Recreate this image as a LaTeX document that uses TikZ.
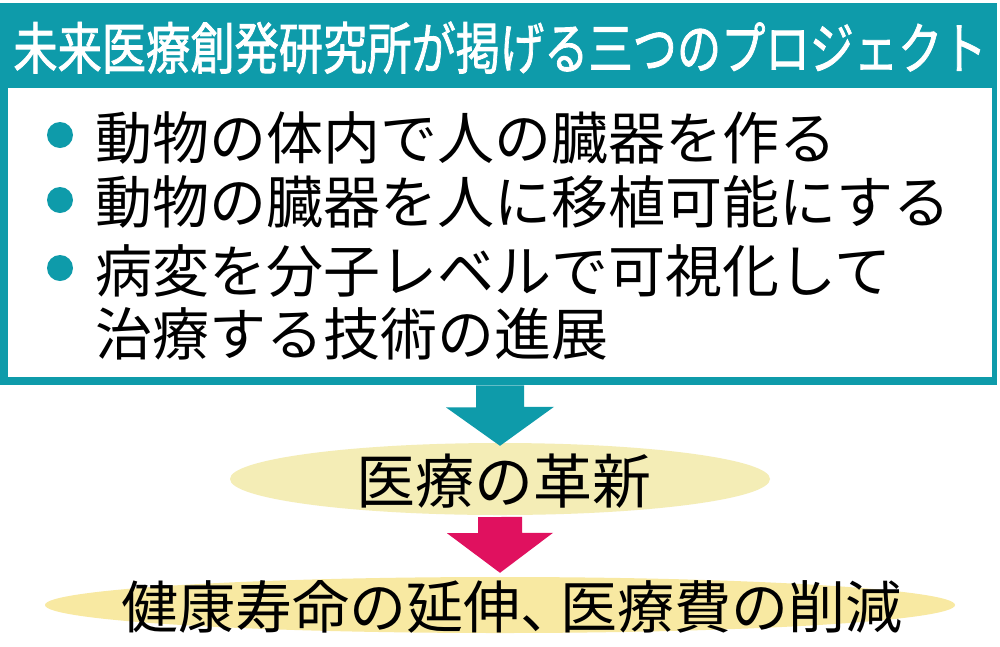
\documentclass[tikz,border=0pt]{standalone}
\usepackage{fontspec}
\usetikzlibrary{shapes.geometric}
\newfontfamily\cjk{Noto Sans CJK JP}
\newfontfamily\cjktitle[FakeBold=1.6]{Noto Sans CJK JP}
\definecolor{teal1}{HTML}{0E9BAA}
\definecolor{pale1}{HTML}{F4EDB6}
\definecolor{pale2}{HTML}{F8E9A2}
\definecolor{mag1}{HTML}{E0115F}
\tikzset{
  body/.style={anchor=base west, inner sep=0pt, font=\cjk\fontsize{57pt}{66pt}\selectfont, text=black},
  dot/.style={circle, fill=teal1, minimum size=26pt, inner sep=0pt},
  blob/.style={ellipse, inner sep=0pt},
}
\begin{document}
\begin{tikzpicture}[x=1pt,y=-1pt]
\useasboundingbox (0,0) rectangle (1000,646);
\fill[white] (0,0) rectangle (1000,646);
% frame
\node[fill=teal1, anchor=north west, minimum width=997pt, minimum height=382pt, inner sep=0pt] (frame) at (0,3) {};
\node[fill=white, anchor=north west, minimum width=984pt, minimum height=289pt, inner sep=0pt] (panel) at (8,88) {};
\node[anchor=base, inner sep=0pt, text=white, font=\cjktitle\fontsize{56pt}{64pt}\selectfont] (title) at (500,69) {\scalebox{0.79}[1]{未来医療創発研究所が掲げる三つのプロジェクト}};
% bullets
\node[dot] (d1) at (60,135) {};
\node[dot] (d2) at (60,200) {};
\node[dot] (d3) at (60,268) {};
\node[body] (l1) at (95,159) {動物の体内で人の臓器を作る};
\node[body] (l2) at (95,223) {動物の臓器を人に移植可能にする};
\node[body] (l3) at (95,292) {病変を分子レベルで可視化して};
\node[body] (l4) at (95,355) {治療する技術の進展};
% ellipses
\node[blob, fill=pale1, minimum width=540pt, minimum height=72pt] (e1) at (500,479) {};
\node[anchor=base, inner sep=0pt, font=\cjk\fontsize{59pt}{66pt}\selectfont] (t1) at (504,503) {医療の革新};
\node[blob, fill=pale2, minimum width=910pt, minimum height=56pt] (e2) at (500,605) {};
\node[anchor=base, inner sep=0pt, font=\cjk\fontsize{57pt}{66pt}\selectfont] (t2) at (512,628) {健康寿命の延伸、\hspace{-17pt}医療費の削減};
% arrows
\fill[teal1] ([xshift=-24pt]frame.south -| e1.north) -- ++(0,22) -- ++(-30,0) -- ([yshift=-3pt]e1.north) -- ++(54,-39) -- ++(-30,0) -- ([xshift=24pt]frame.south -| e1.north) -- cycle;
\fill[mag1] ([xshift=-22pt,yshift=-2pt]e1.south) -- ++(0,16) -- ++(-31,0) -- ([yshift=4pt]e2.north) -- ++(53,-40) -- ++(-31,0) -- ++(0,-16) -- cycle;
\end{tikzpicture}
\end{document}
